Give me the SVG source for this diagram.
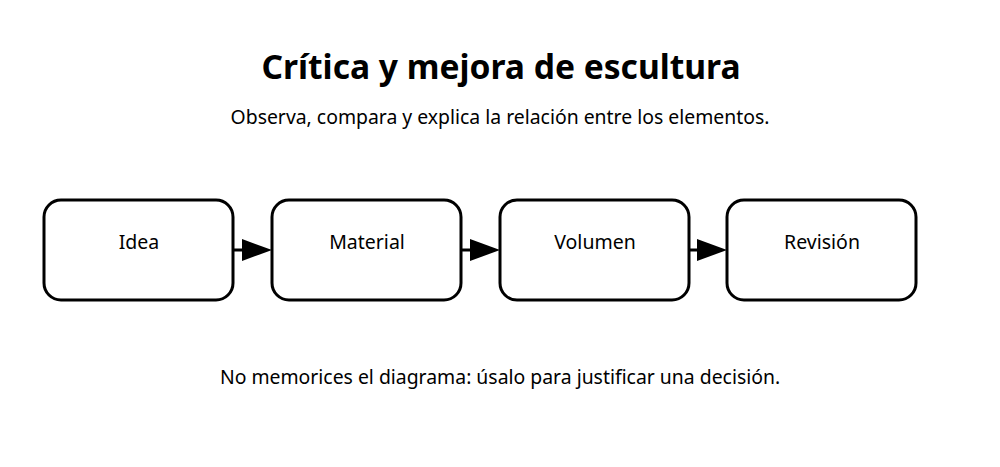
<svg xmlns="http://www.w3.org/2000/svg" width="1000" height="467" viewBox="0 0 1000 467">
<style>
text{font-family:"Noto Sans","Open Sans",sans-serif;fill:#000;text-anchor:middle}
.box{fill:#fff;stroke:#000;stroke-width:3}
.lbl{font-size:19.5px}
.edge{stroke:#000;stroke-width:3;fill:none}
</style>
<rect width="1000" height="467" fill="#fff"/>
<text x="501" y="79" font-size="33.6" font-weight="bold">Crítica y mejora de escultura</text>
<text x="500" y="124" font-size="19.4">Observa, compara y explica la relación entre los elementos.</text>
<g id="connectors">
<line class="edge" x1="234" y1="250" x2="244" y2="250"/>
<path d="M242,239 L272,250 L242,261 z"/>
<line class="edge" x1="462" y1="250" x2="472" y2="250"/>
<path d="M470,239 L500,250 L470,261 z"/>
<line class="edge" x1="690" y1="250" x2="699" y2="250"/>
<path d="M697,239 L727,250 L697,261 z"/>
</g>
<g id="idea"><rect class="box" x="44" y="200" width="189" height="100" rx="17"/><text class="lbl" x="139" y="249">Idea</text></g>
<g id="material"><rect class="box" x="272" y="200" width="189" height="100" rx="17"/><text class="lbl" x="367" y="249">Material</text></g>
<g id="volumen"><rect class="box" x="500" y="200" width="189" height="100" rx="17"/><text class="lbl" x="595" y="249">Volumen</text></g>
<g id="revision"><rect class="box" x="727" y="200" width="189" height="100" rx="17"/><text class="lbl" x="822" y="249">Revisión</text></g>
<text x="500" y="384" font-size="19.4">No memorices el diagrama: úsalo para justificar una decisión.</text>
</svg>
